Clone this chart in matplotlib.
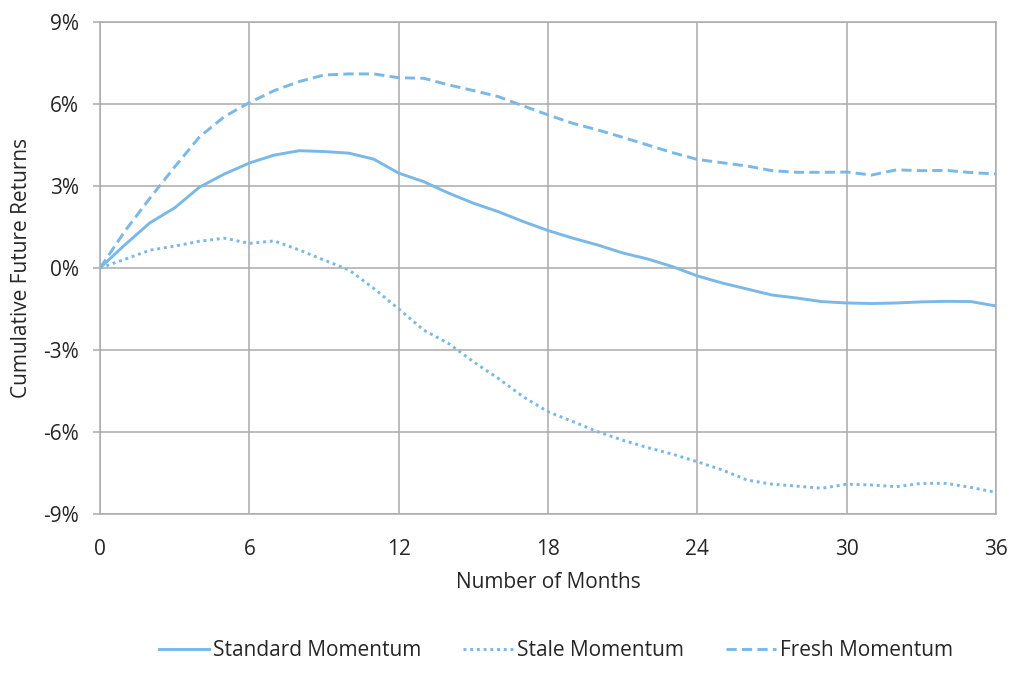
import matplotlib.pyplot as plt
from matplotlib.ticker import FuncFormatter

months = list(range(0, 37))

standard = [0.0, 0.85, 1.65, 2.2, 2.96, 3.44, 3.84, 4.13, 4.29, 4.26, 4.2, 3.98, 3.47,
            3.16, 2.74, 2.37, 2.06, 1.7, 1.37, 1.09, 0.84, 0.55, 0.33, 0.05, -0.29,
            -0.55, -0.77, -0.99, -1.1, -1.23, -1.28, -1.3, -1.28, -1.24, -1.22, -1.23, -1.39]

stale = [0.0, 0.32, 0.65, 0.8, 0.98, 1.09, 0.9, 0.99, 0.66, 0.29, -0.07, -0.75, -1.5,
         -2.27, -2.76, -3.43, -4.04, -4.71, -5.26, -5.62, -5.99, -6.3, -6.57, -6.81, -7.09,
         -7.39, -7.76, -7.91, -7.98, -8.06, -7.91, -7.94, -8.0, -7.88, -7.88, -8.03, -8.21]

fresh = [0.0, 1.35, 2.55, 3.7, 4.8, 5.54, 6.05, 6.49, 6.82, 7.06, 7.1, 7.1, 6.96,
         6.94, 6.7, 6.49, 6.27, 5.93, 5.6, 5.29, 5.05, 4.78, 4.5, 4.22, 3.97,
         3.85, 3.73, 3.56, 3.5, 3.5, 3.51, 3.4, 3.59, 3.56, 3.57, 3.49, 3.44]

x_ticks = [0, 6, 12, 18, 24, 30, 36]
y_ticks = [-9, -6, -3, 0, 3, 6, 9]

plt.rcParams['font.family'] = ['Open Sans', 'DejaVu Sans']
text_color = '#262626'
line_color = '#7AB8E8'
grid_color = '#ABABAB'
fs = 15

fig = plt.figure(figsize=(10.24, 6.78), dpi=100)
ax = fig.add_axes([0.0977, 0.2419, 0.875, 0.7257])

ax.plot(months, standard, color=line_color, lw=2.1, label='Standard Momentum')
ax.plot(months, stale, color=line_color, lw=2.1, ls=(0, (1, 1.3)), label='Stale Momentum')
ax.plot(months, fresh, color=line_color, lw=2.1, ls=(0, (3.5, 1.8)), label='Fresh Momentum')

ax.set_xlim(0, 36)
ax.set_ylim(-9, 9)
ax.set_xticks(x_ticks)
ax.set_yticks(y_ticks)
ax.yaxis.set_major_formatter(FuncFormatter(lambda v, p: f'{v:.0f}%'))
ax.grid(True, color=grid_color, lw=1.1)
ax.set_axisbelow(True)
for s in ax.spines.values():
    s.set_color(grid_color)
    s.set_linewidth(1.1)
ax.tick_params(axis='both', colors=grid_color, labelcolor=text_color, labelsize=fs,
               length=5, width=1.1)
ax.tick_params(axis='y', pad=10)
ax.tick_params(axis='x', length=0, pad=18)

ax.set_xlabel('Number of Months', fontsize=fs, color=text_color, labelpad=9)
ax.set_ylabel('Cumulative Future Returns', fontsize=fs, color=text_color, labelpad=8)

fig.legend(loc='center', bbox_to_anchor=(0.543, 0.04), ncol=3, frameon=False,
           fontsize=fs, labelcolor=text_color, handlelength=2.4, columnspacing=2.0,
           handletextpad=0.2)

fig.savefig('out.png', dpi=100)
